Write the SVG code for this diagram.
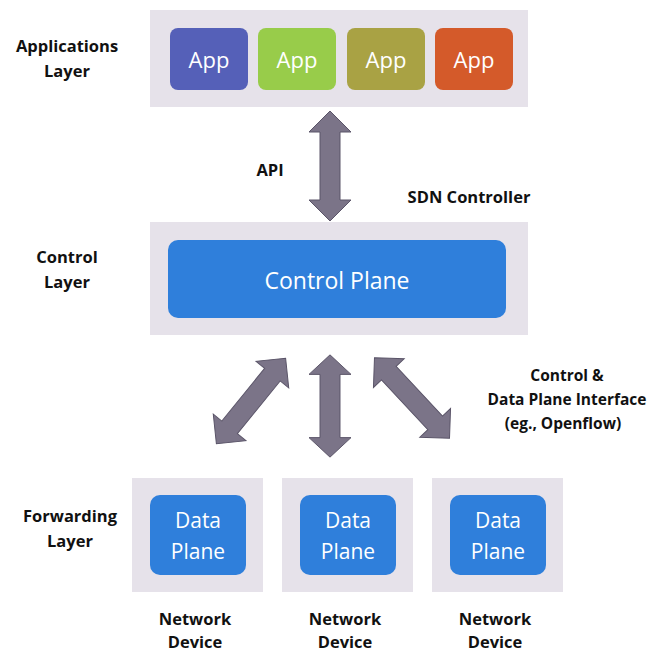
<svg xmlns="http://www.w3.org/2000/svg" width="648" height="653" viewBox="0 0 648 653">
<style>
.panel{fill:#e6e2ea;}
.blue{fill:#2f7fdb;}
.wt{fill:#fff;font-family:"Open Sans","Liberation Sans",sans-serif;text-anchor:middle;}
.lbl{fill:#111;font-family:"Open Sans","Liberation Sans",sans-serif;font-weight:bold;font-size:16.5px;text-anchor:middle;}
.arr{fill:#7b7488;stroke:#5a5468;stroke-width:1;}
</style>
<defs>
<path id="dbl" d="M0,-55 L21,-34 L10,-34 L10,34 L21,34 L0,55 L-21,34 L-10,34 L-10,-34 L-21,-34 Z"/>
</defs>
<rect width="648" height="653" fill="#fff"/>
<g id="app-layer">
<rect class="panel" x="150" y="10" width="378" height="97"/>
<g id="app1"><rect x="170" y="28" width="78" height="62" rx="8" fill="#5560b8"/><text class="wt" x="209" y="68" font-size="22">App</text></g>
<g id="app2"><rect x="258" y="28" width="78" height="62" rx="8" fill="#98cc4a"/><text class="wt" x="297" y="68" font-size="22">App</text></g>
<g id="app3"><rect x="347" y="28" width="78" height="62" rx="8" fill="#a9a244"/><text class="wt" x="386" y="68" font-size="22">App</text></g>
<g id="app4"><rect x="435" y="28" width="78" height="62" rx="8" fill="#d45a2a"/><text class="wt" x="474" y="68" font-size="22">App</text></g>
</g>
<g id="control-layer">
<rect class="panel" x="150" y="222" width="378" height="113"/>
<rect class="blue" x="168" y="240" width="338" height="78" rx="10"/>
<text class="wt" x="337" y="289" font-size="23">Control Plane</text>
</g>
<g id="dev1">
<rect class="panel" x="132" y="478" width="131" height="114"/>
<rect class="blue" x="150" y="495" width="96" height="80" rx="10"/>
<text class="wt" x="198" y="528" font-size="21">Data</text>
<text class="wt" x="198" y="559" font-size="21">Plane</text>
</g>
<g id="dev2">
<rect class="panel" x="282" y="478" width="131" height="114"/>
<rect class="blue" x="300" y="495" width="96" height="80" rx="10"/>
<text class="wt" x="348" y="528" font-size="21">Data</text>
<text class="wt" x="348" y="559" font-size="21">Plane</text>
</g>
<g id="dev3">
<rect class="panel" x="432" y="478" width="131" height="114"/>
<rect class="blue" x="450" y="495" width="96" height="80" rx="10"/>
<text class="wt" x="498" y="528" font-size="21">Data</text>
<text class="wt" x="498" y="559" font-size="21">Plane</text>
</g>
<g id="connectors">
<use href="#dbl" class="arr" transform="translate(330,166)"/>
<use href="#dbl" class="arr" transform="translate(251,401) rotate(39)"/>
<use href="#dbl" class="arr" transform="translate(330,406) scale(1,0.93)"/>
<use href="#dbl" class="arr" transform="translate(412,398) rotate(-43)"/>
</g>
<g id="labels">
<text class="lbl" x="67" y="52">Applications</text>
<text class="lbl" x="67" y="77">Layer</text>
<text class="lbl" x="67" y="263">Control</text>
<text class="lbl" x="67" y="288">Layer</text>
<text class="lbl" x="70" y="522">Forwarding</text>
<text class="lbl" x="70" y="547">Layer</text>
<text class="lbl" x="270" y="176">API</text>
<text class="lbl" x="469" y="203">SDN Controller</text>
<text class="lbl" x="567" y="381" style="font-size:15.5px">Control &amp;</text>
<text class="lbl" x="567" y="405" style="font-size:15.5px">Data Plane Interface</text>
<text class="lbl" x="563" y="429" style="font-size:15.5px">(eg., Openflow)</text>
<text class="lbl" x="195" y="625">Network</text>
<text class="lbl" x="195" y="648">Device</text>
<text class="lbl" x="345" y="625">Network</text>
<text class="lbl" x="345" y="648">Device</text>
<text class="lbl" x="495" y="625">Network</text>
<text class="lbl" x="495" y="648">Device</text>
</g>
</svg>
